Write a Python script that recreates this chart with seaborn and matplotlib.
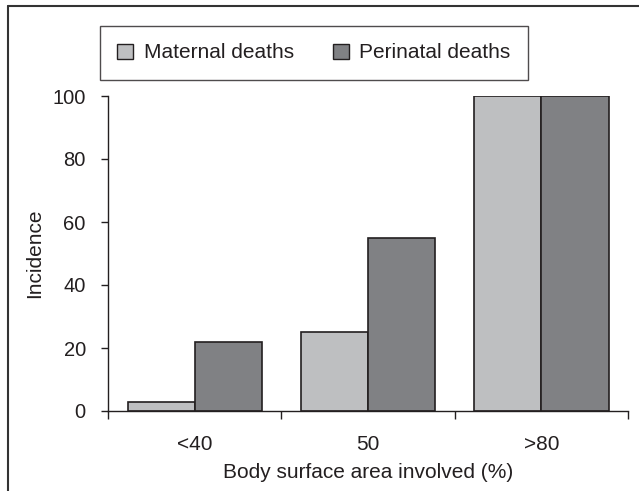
import matplotlib
matplotlib.use("Agg")
import matplotlib.pyplot as plt
import seaborn as sns
import pandas as pd
from matplotlib.lines import Line2D

# Incidence by body surface area involved
categories = ["<40", "50", ">80"]
maternal = [3, 25, 100]
perinatal = [22, 55, 100]
series_names = ["Maternal deaths", "Perinatal deaths"]
y_ticks = [0, 20, 40, 60, 80, 100]

df = pd.DataFrame({
    "area": categories * 2,
    "value": maternal + perinatal,
    "series": [series_names[0]] * 3 + [series_names[1]] * 3,
})

sns.set_theme(style="white")
plt.rcParams["font.family"] = ["Liberation Sans", "DejaVu Sans"]
ink = "#231F20"
plt.rcParams["text.color"] = ink
plt.rcParams["axes.labelcolor"] = ink
plt.rcParams["xtick.color"] = ink
plt.rcParams["ytick.color"] = ink

FS = 15
W, H = 639, 491
fig = plt.figure(figsize=(W / 100, H / 100), dpi=100)
ax = fig.add_axes([108 / W, 1 - 411 / H, (628 - 108) / W, (411 - 96) / H])

sns.barplot(
    data=df, x="area", y="value", hue="series", order=categories,
    hue_order=series_names, palette=["#BEBFC1", "#808184"],
    width=0.775, gap=0, edgecolor=ink, linewidth=1.2, saturation=1,
    ax=ax, legend=False,
)

ax.set_ylim(0, 100)
ax.set_xlim(-0.5, 2.5)
ax.set_yticks(y_ticks)
ax.set_yticklabels([str(v) for v in y_ticks], fontsize=14.5)
ax.set_xticks([-0.5, 0.5, 1.5, 2.5], minor=False)
ax.set_xticklabels([])
ax.set_xticks([0, 1, 2], minor=True)
ax.set_xticklabels(categories, minor=True, fontsize=FS)
ax.tick_params(axis="x", which="major", direction="out", length=6, width=1, bottom=True, color=ink)
ax.tick_params(axis="x", which="minor", length=0, pad=17)
ax.tick_params(axis="y", direction="out", length=5, width=1, left=True, color=ink, pad=11)

for s in ["top", "right"]:
    ax.spines[s].set_visible(False)
for s in ["left", "bottom"]:
    ax.spines[s].set_color(ink)
    ax.spines[s].set_linewidth(1.0)

ax.set_xlabel("Body surface area involved (%)", fontsize=FS, labelpad=7)
ax.set_ylabel("Incidence", fontsize=FS, labelpad=6)

handles = [
    plt.Rectangle((0, 0), 1, 1, facecolor="#BEBFC1", edgecolor=ink, linewidth=1.0),
    plt.Rectangle((0, 0), 1, 1, facecolor="#808184", edgecolor=ink, linewidth=1.0),
]
leg = fig.legend(
    handles, series_names, loc="center", bbox_to_anchor=(314 / W, 1 - 53 / H),
    ncol=2, fontsize=FS, frameon=True, fancybox=False, handlelength=0.75,
    handleheight=0.75, handletextpad=0.5, columnspacing=1.9, borderpad=0.85,
)
leg.get_frame().set_edgecolor(ink)
leg.get_frame().set_linewidth(1.0)

# open frame around the figure (top and left edges)
fig.add_artist(Line2D([8 / W, 1], [1 - 6 / H, 1 - 6 / H], transform=fig.transFigure, color="#333333", linewidth=1.5))
fig.add_artist(Line2D([8 / W, 8 / W], [0, 1 - 6 / H], transform=fig.transFigure, color="#333333", linewidth=1.5))

fig.savefig("out.png", dpi=100)
